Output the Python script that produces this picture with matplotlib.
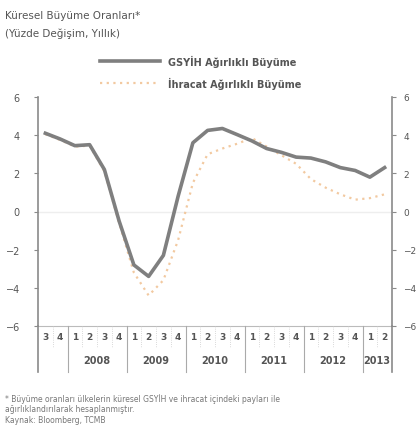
import matplotlib
matplotlib.use("Agg")
import matplotlib.pyplot as plt
import matplotlib.transforms as mtransforms

# quarterly data, 2007Q3 - 2013Q2
quarters = ['3', '4'] + ['1', '2', '3', '4'] * 5 + ['1', '2']
year_labels = ['', '2008', '2009', '2010', '2011', '2012', '2013']
year_sizes = [2, 4, 4, 4, 4, 4, 2]

gdp_weighted = [4.1, 3.8, 3.45, 3.5, 2.2, -0.5, -2.8, -3.4, -2.3, 0.8, 3.6, 4.25,
                4.35, 4.03, 3.7, 3.3, 3.1, 2.85, 2.8, 2.6, 2.3, 2.15, 1.8, 2.3]
export_weighted = [4.05, 3.75, 3.4, 3.45, 2.1, -0.6, -3.2, -4.4, -3.6, -1.5, 1.5, 3.0,
                   3.3, 3.55, 3.85, 3.4, 2.95, 2.5, 1.7, 1.25, 0.9, 0.62, 0.7, 0.9]

txt = '#555555'
W, H = 417, 435
fig = plt.figure(figsize=(W / 100, H / 100), dpi=100)

# axes box in pixels: x 38..392, y 98..327
ax = fig.add_axes([38 / W, 1 - 327 / H, (392 - 38) / W, (327 - 98) / H])
x = list(range(len(quarters)))

ax.axhline(0, color='#eeeeee', lw=1, zorder=1)
ax.plot(x, export_weighted, color='#f2c9a0', lw=1.6, ls=(0, (1, 2)), zorder=2,
        label='İhracat Ağırlıklı Büyüme')
ax.plot(x, gdp_weighted, color='#7f7f7f', lw=2.6, zorder=3,
        label='GSYİH Ağırlıklı Büyüme')

ax.set_xlim(-0.5, len(quarters) - 0.5)
ax.set_ylim(-6, 6)
ax.set_yticks(range(-6, 7, 2))
for s in ['top', 'bottom']:
    ax.spines[s].set_visible(False)
for s in ['left', 'right']:
    ax.spines[s].set_color('#8a8a8a')
    ax.spines[s].set_linewidth(1.2)
ax.tick_params(axis='y', colors='#8a8a8a', labelcolor=txt, labelsize=7, length=3, pad=10)

ax2 = ax.twinx()
ax2.set_ylim(-6, 6)
ax2.set_yticks(range(-6, 7, 2))
for s in ['top', 'bottom', 'left', 'right']:
    ax2.spines[s].set_visible(False)
ax2.tick_params(axis='y', colors='#8a8a8a', labelcolor=txt, labelsize=6.5, length=3, pad=5)

# category table under the plot
ax.set_xticks([])
trans = mtransforms.blended_transform_factory(ax.transData, ax.transAxes)
row1, row2 = -0.095, -0.20
ax.plot([-0.5, len(quarters) - 0.5], [0, 0], transform=trans, color='#bbbbbb',
        lw=0.8, clip_on=False)
for i, q in enumerate(quarters):
    ax.text(i, row1 / 2, q, transform=trans, ha='center', va='center',
            fontsize=6.5, color=txt, fontweight='bold')
    if i > 0:
        ax.plot([i - 0.5, i - 0.5], [0, row1], transform=trans, color='#cccccc',
                lw=0.6, ls=':', clip_on=False)
start = -0.5
for lab, n in zip(year_labels, year_sizes):
    ax.text(start + n / 2, (row1 + row2) / 2, lab, transform=trans, ha='center',
            va='center', fontsize=7, color=txt, fontweight='bold')
    if start > -0.5:
        ax.plot([start, start], [0, row2], transform=trans, color='#aaaaaa',
                lw=0.8, clip_on=False)
    start += n
ax.plot([-0.5, -0.5], [0, row2], transform=trans, color='#8a8a8a', lw=1.2, clip_on=False)
ax.plot([len(quarters) - 0.5] * 2, [0, row2], transform=trans, color='#8a8a8a',
        lw=1.2, clip_on=False)

# legend drawn by hand to match placement
fig.lines.append(plt.Line2D([100 / W, 160 / W], [1 - 62 / H] * 2, color='#7f7f7f',
                            lw=2.6, transform=fig.transFigure))
fig.lines.append(plt.Line2D([100 / W, 160 / W], [1 - 84 / H] * 2, color='#f2c9a0',
                            lw=1.6, ls=(0, (1, 2)), transform=fig.transFigure))
fig.text(168 / W, 1 - 62 / H, 'GSYİH Ağırlıklı Büyüme', fontsize=7, color=txt,
         fontweight='bold', va='center')
fig.text(168 / W, 1 - 84 / H, 'İhracat Ağırlıklı Büyüme', fontsize=7, color=txt,
         fontweight='bold', va='center')

fig.text(5 / W, 1 - 16 / H, 'Küresel Büyüme Oranları*', fontsize=7.5, color=txt,
         va='center')
fig.text(5 / W, 1 - 34 / H, '(Yüzde Değişim, Yıllık)', fontsize=7.5, color=txt,
         va='center')

fig.text(5 / W, 1 - 399 / H, '* Büyüme oranları ülkelerin küresel GSYİH ve ihracat içindeki payları ile',
         fontsize=5.5, color='#777777', va='center')
fig.text(5 / W, 1 - 410 / H, 'ağırlıklandırılarak hesaplanmıştır.', fontsize=5.5,
         color='#777777', va='center')
fig.text(5 / W, 1 - 421 / H, 'Kaynak: Bloomberg, TCMB', fontsize=5.5,
         color='#777777', va='center')

fig.savefig('out.png', dpi=100)
